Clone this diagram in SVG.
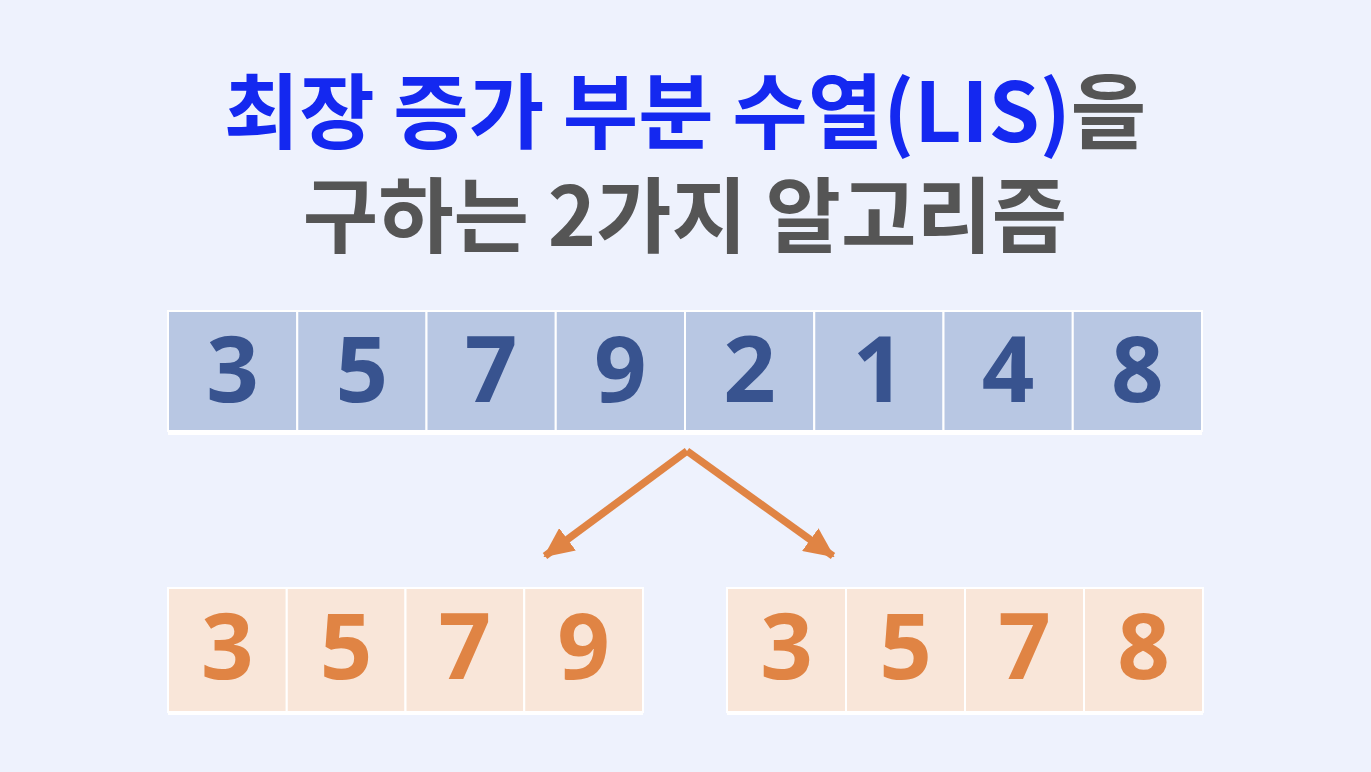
<svg xmlns="http://www.w3.org/2000/svg" width="1371" height="772" viewBox="0 0 1371 772">
<defs>
<style>
.title{font-family:"Noto Sans CJK KR","Noto Sans",sans-serif;font-weight:700;font-size:82px;text-anchor:middle}
.blue{fill:#1428f0}
.gray{fill:#555555}
.top rect{fill:#b8c7e3;stroke:#ffffff;stroke-width:2}
.top text{fill:#38538f}
.bot rect{fill:#f9e6d9;stroke:#ffffff;stroke-width:2}
.bot text{fill:#e08444}
.num{font-family:"Open Sans","Noto Sans",sans-serif;font-weight:700;font-size:92px;text-anchor:middle}
.arrow{stroke:#e08444;stroke-width:7.5;fill:none}
</style>
<marker id="ah2" viewBox="0 0 30 28" refX="28" refY="14" markerWidth="30" markerHeight="28" orient="auto" markerUnits="userSpaceOnUse">
<path d="M0,0 L30,14 L0,28 z" fill="#e08444"/>
</marker>
</defs>
<rect width="1371" height="772" fill="#eef2fd"/>
<g id="title">
<text class="title" x="685" y="142"><tspan class="blue">최장 증가 부분 수열(LIS)</tspan><tspan class="gray">을</tspan></text>
<text class="title gray" x="685" y="246">구하는 2가지 알고리즘</text>
</g>
<g id="sequence" class="top">
<rect x="168" y="432" width="1034" height="3" style="fill:#ffffff;stroke:none"/>
<g id="s1"><rect x="168" y="311" width="129.25" height="120"/><text class="num" x="232.6" y="402">3</text></g>
<g id="s2"><rect x="297.25" y="311" width="129.25" height="120"/><text class="num" x="361.9" y="402">5</text></g>
<g id="s3"><rect x="426.5" y="311" width="129.25" height="120"/><text class="num" x="491.1" y="402">7</text></g>
<g id="s4"><rect x="555.75" y="311" width="129.25" height="120"/><text class="num" x="620.4" y="402">9</text></g>
<g id="s5"><rect x="685" y="311" width="129.25" height="120"/><text class="num" x="749.6" y="402">2</text></g>
<g id="s6"><rect x="814.25" y="311" width="129.25" height="120"/><text class="num" x="878.9" y="402">1</text></g>
<g id="s7"><rect x="943.5" y="311" width="129.25" height="120"/><text class="num" x="1008.1" y="402">4</text></g>
<g id="s8"><rect x="1072.75" y="311" width="129.25" height="120"/><text class="num" x="1137.4" y="402">8</text></g>
</g>
<g id="connectors">
<line class="arrow" x1="687" y1="451" x2="545" y2="556" marker-end="url(#ah2)"/>
<line class="arrow" x1="687" y1="451" x2="833" y2="556" marker-end="url(#ah2)"/>
</g>
<g id="lis1" class="bot">
<rect x="168" y="712" width="475" height="3" style="fill:#ffffff;stroke:none"/>
<g id="a1"><rect x="168" y="588" width="118.75" height="124"/><text class="num" x="227.4" y="679">3</text></g>
<g id="a2"><rect x="286.75" y="588" width="118.75" height="124"/><text class="num" x="346.1" y="679">5</text></g>
<g id="a3"><rect x="405.5" y="588" width="118.75" height="124"/><text class="num" x="464.9" y="679">7</text></g>
<g id="a4"><rect x="524.25" y="588" width="118.75" height="124"/><text class="num" x="583.6" y="679">9</text></g>
</g>
<g id="lis2" class="bot">
<rect x="727" y="712" width="476" height="3" style="fill:#ffffff;stroke:none"/>
<g id="b1"><rect x="727" y="588" width="119" height="124"/><text class="num" x="786.5" y="679">3</text></g>
<g id="b2"><rect x="846" y="588" width="119" height="124"/><text class="num" x="905.5" y="679">5</text></g>
<g id="b3"><rect x="965" y="588" width="119" height="124"/><text class="num" x="1024.5" y="679">7</text></g>
<g id="b4"><rect x="1084" y="588" width="119" height="124"/><text class="num" x="1143.5" y="679">8</text></g>
</g>
</svg>
